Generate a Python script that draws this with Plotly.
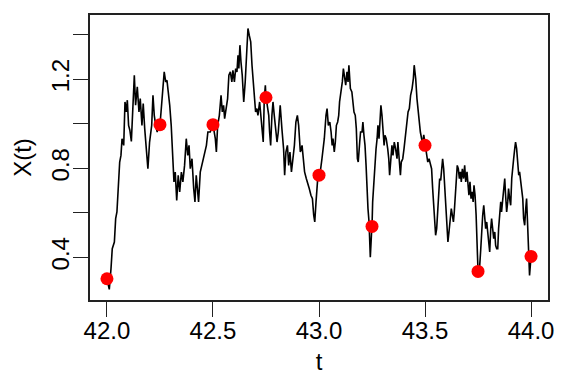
import plotly.graph_objects as go

# path samples X(t)
t_path = [
    42.000, 42.011, 42.019, 42.025, 42.035, 42.041, 42.047, 42.053, 42.060, 42.066,
    42.071, 42.079, 42.085, 42.091, 42.096, 42.102, 42.108, 42.115, 42.121, 42.129,
    42.135, 42.143, 42.151, 42.157, 42.165, 42.171, 42.178, 42.186, 42.193, 42.201,
    42.211, 42.217, 42.223, 42.230, 42.237, 42.244, 42.250, 42.255, 42.263, 42.270,
    42.277, 42.283, 42.289, 42.296, 42.303, 42.311, 42.316, 42.322, 42.329, 42.336,
    42.343, 42.351, 42.358, 42.366, 42.374, 42.381, 42.387, 42.393, 42.401, 42.409,
    42.415, 42.421, 42.428, 42.432, 42.440, 42.450, 42.459, 42.469, 42.476, 42.487,
    42.500, 42.511, 42.516, 42.522, 42.530, 42.538, 42.544, 42.550, 42.555, 42.561,
    42.569, 42.575, 42.582, 42.589, 42.594, 42.601, 42.607, 42.613, 42.618, 42.622,
    42.627, 42.632, 42.638, 42.645, 42.652, 42.660, 42.665, 42.671, 42.678, 42.684,
    42.690, 42.697, 42.701, 42.707, 42.712, 42.720, 42.726, 42.733, 42.737, 42.742,
    42.747, 42.750, 42.752, 42.756, 42.763, 42.767, 42.772, 42.778, 42.783, 42.789,
    42.794, 42.802, 42.808, 42.813, 42.817, 42.825, 42.833, 42.838, 42.844, 42.851,
    42.857, 42.863, 42.870, 42.877, 42.884, 42.891, 42.898, 42.904, 42.912, 42.920,
    42.926, 42.932, 42.940, 42.947, 42.954, 42.962, 42.969, 42.975, 42.980, 42.986,
    42.994, 43.000, 43.006, 43.014, 43.022, 43.025, 43.033, 43.038, 43.044, 43.051,
    43.057, 43.062, 43.066, 43.072, 43.077, 43.082, 43.088, 43.093, 43.097, 43.104,
    43.110, 43.115, 43.119, 43.126, 43.132, 43.137, 43.141, 43.148, 43.155, 43.160,
    43.165, 43.171, 43.176, 43.181, 43.185, 43.192, 43.196, 43.203, 43.207, 43.212,
    43.217, 43.222, 43.226, 43.231, 43.236, 43.242, 43.248, 43.250, 43.253, 43.258,
    43.262, 43.269, 43.274, 43.278, 43.283, 43.288, 43.292, 43.297, 43.302, 43.307,
    43.311, 43.317, 43.324, 43.329, 43.333, 43.339, 43.344, 43.349, 43.355, 43.361,
    43.368, 43.372, 43.377, 43.384, 43.388, 43.395, 43.401, 43.407, 43.413, 43.420,
    43.426, 43.432, 43.439, 43.445, 43.449, 43.456, 43.462, 43.467, 43.472, 43.478,
    43.484, 43.490, 43.494, 43.500, 43.506, 43.513, 43.519, 43.525, 43.531, 43.536,
    43.541, 43.546, 43.550, 43.555, 43.560, 43.564, 43.569, 43.574, 43.578, 43.583,
    43.588, 43.593, 43.597, 43.602, 43.608, 43.613, 43.618, 43.624, 43.629, 43.634,
    43.638, 43.643, 43.648, 43.652, 43.657, 43.662, 43.667, 43.671, 43.676, 43.682,
    43.687, 43.692, 43.698, 43.703, 43.707, 43.712, 43.717, 43.722, 43.727, 43.731,
    43.736, 43.741, 43.745, 43.748, 43.750, 43.753, 43.758, 43.763, 43.767, 43.772,
    43.777, 43.781, 43.786, 43.791, 43.796, 43.800, 43.805, 43.810, 43.814, 43.819,
    43.824, 43.829, 43.833, 43.838, 43.843, 43.847, 43.852, 43.857, 43.861, 43.866,
    43.871, 43.876, 43.880, 43.885, 43.890, 43.894, 43.899, 43.904, 43.909, 43.913,
    43.918, 43.923, 43.927, 43.932, 43.937, 43.942, 43.946, 43.951, 43.956, 43.961,
    43.965, 43.970, 43.975, 43.979, 43.984, 43.989, 43.993, 44.000,
]
x_path = [
    0.304, 0.256, 0.349, 0.439, 0.469, 0.574, 0.604, 0.739, 0.828, 0.858,
    0.933, 0.903, 1.098, 1.053, 1.106, 0.993, 0.971, 0.921, 1.038, 1.218,
    1.083, 1.166, 1.053, 1.113, 0.993, 1.091, 0.978, 0.888, 0.798, 0.918,
    0.993, 1.128, 1.038, 0.993, 0.963, 1.008, 0.996, 1.053, 1.158, 1.233,
    1.188, 1.195, 1.143, 1.083, 0.993, 0.858, 0.739, 0.783, 0.656, 0.769,
    0.694, 0.783, 0.739, 0.813, 0.933, 0.858, 0.903, 0.798, 0.843, 0.709,
    0.649, 0.769, 0.709, 0.649, 0.783, 0.828, 0.873, 0.903, 0.963, 0.963,
    0.996, 0.933, 0.873, 0.993, 1.038, 1.128, 1.053, 1.083, 1.023, 1.068,
    1.113, 1.218, 1.233, 1.188, 1.240, 1.188, 1.248, 1.233, 1.308, 1.248,
    1.353, 1.278, 1.218, 1.098, 1.188, 1.338, 1.428, 1.398, 1.368, 1.263,
    1.188, 1.128, 1.053, 1.068, 1.038, 1.098, 1.038, 0.963, 0.918, 1.113,
    1.173, 1.118, 1.113, 1.083, 1.038, 0.963, 0.903, 1.038, 1.098, 1.038,
    0.993, 0.918, 0.963, 1.038, 1.083, 0.978, 0.888, 0.769, 0.873, 0.903,
    0.813, 0.873, 0.784, 0.843, 0.903, 1.008, 1.038, 0.993, 0.873, 0.903,
    0.843, 0.784, 0.754, 0.724, 0.709, 0.679, 0.664, 0.589, 0.559, 0.649,
    0.754, 0.769, 0.784, 0.843, 0.903, 0.933, 1.038, 1.068, 0.993, 1.008,
    0.963, 0.903, 0.933, 0.873, 0.918, 0.993, 1.008, 1.038, 1.098, 1.143,
    1.188, 1.248, 1.218, 1.173, 1.233, 1.188, 1.263, 1.158, 1.143, 1.098,
    1.053, 1.038, 0.978, 0.843, 0.828, 0.918, 0.963, 0.963, 1.008, 0.948,
    0.903, 0.813, 0.709, 0.619, 0.559, 0.401, 0.514, 0.539, 0.649, 0.739,
    0.813, 0.888, 0.933, 0.993, 0.933, 1.008, 1.083, 1.038, 0.978, 0.903,
    0.948, 0.933, 0.888, 0.843, 0.769, 0.828, 0.903, 0.858, 0.918, 0.888,
    0.843, 0.918, 0.858, 0.769, 0.828, 0.843, 0.888, 0.948, 0.978, 1.053,
    1.068, 1.128, 1.158, 1.203, 1.263, 1.203, 1.113, 1.053, 0.993, 0.963,
    0.933, 0.918, 0.950, 0.903, 0.873, 0.828, 0.843, 0.813, 0.798, 0.709,
    0.619, 0.559, 0.499, 0.529, 0.619, 0.709, 0.754, 0.746, 0.798, 0.843,
    0.798, 0.724, 0.649, 0.574, 0.469, 0.514, 0.559, 0.619, 0.589, 0.559,
    0.604, 0.679, 0.739, 0.813, 0.798, 0.754, 0.784, 0.739, 0.798, 0.754,
    0.813, 0.739, 0.784, 0.724, 0.679, 0.739, 0.664, 0.694, 0.649, 0.724,
    0.679, 0.589, 0.454, 0.364, 0.337, 0.349, 0.364, 0.439, 0.529, 0.589,
    0.634, 0.574, 0.529, 0.559, 0.499, 0.469, 0.424, 0.529, 0.574, 0.529,
    0.484, 0.514, 0.454, 0.439, 0.439, 0.529, 0.619, 0.649, 0.604, 0.649,
    0.694, 0.754, 0.679, 0.604, 0.649, 0.709, 0.664, 0.634, 0.754, 0.813,
    0.843, 0.888, 0.918, 0.888, 0.813, 0.769, 0.784, 0.739, 0.709, 0.664,
    0.574, 0.544, 0.619, 0.664, 0.544, 0.409, 0.319, 0.404,
]

# observed points
t_obs = [42.0, 42.25, 42.5, 42.75, 43.0, 43.25, 43.5, 43.75, 44.0]
x_obs = [0.304, 0.996, 0.996, 1.118, 0.769, 0.539, 0.903, 0.337, 0.404]

x_ticks = [42.0, 42.5, 43.0, 43.5, 44.0]
x_ticklabels = ["42.0", "42.5", "43.0", "43.5", "44.0"]
y_ticks = [0.4, 0.6, 0.8, 1.0, 1.2, 1.4]
y_ticklabels = ["0.4", "", "0.8", "", "1.2", ""]

FONT = "Liberation Sans, Arial, Helvetica, sans-serif"

fig = go.Figure()
fig.add_trace(go.Scatter(x=t_path, y=x_path, mode="lines",
                         line=dict(color="black", width=1.6), showlegend=False,
                         hoverinfo="skip"))
fig.add_trace(go.Scatter(x=t_obs, y=x_obs, mode="markers",
                         marker=dict(color="#ff0000", size=13, line=dict(width=0)),
                         showlegend=False))

fig.update_layout(
    width=563, height=375,
    margin=dict(l=90, r=15, t=15, b=75),
    paper_bgcolor="white", plot_bgcolor="white",
    font=dict(family=FONT, size=24, color="black"),
)
fig.update_xaxes(
    range=[41.92, 44.08], tickvals=x_ticks, ticktext=x_ticklabels,
    showgrid=False, zeroline=False, showline=True, mirror=True,
    linecolor="#222", linewidth=1.5,
    ticks="outside", ticklen=15, tickwidth=1.2, tickcolor="#222",
    ticklabelstandoff=-7, automargin=False,
    title=dict(text="t", standoff=12, font=dict(size=24)),
)
fig.update_yaxes(
    range=[0.2085, 1.4885], tickvals=y_ticks, ticktext=y_ticklabels,
    tickangle=-90,
    showgrid=False, zeroline=False, showline=True, mirror=True,
    linecolor="#222", linewidth=1.5,
    ticks="outside", ticklen=15, tickwidth=1.2, tickcolor="#222",
    ticklabelstandoff=-5, automargin=False,
    title=dict(text="X(t)", standoff=8, font=dict(size=24)),
)

fig.write_html("out.html")
